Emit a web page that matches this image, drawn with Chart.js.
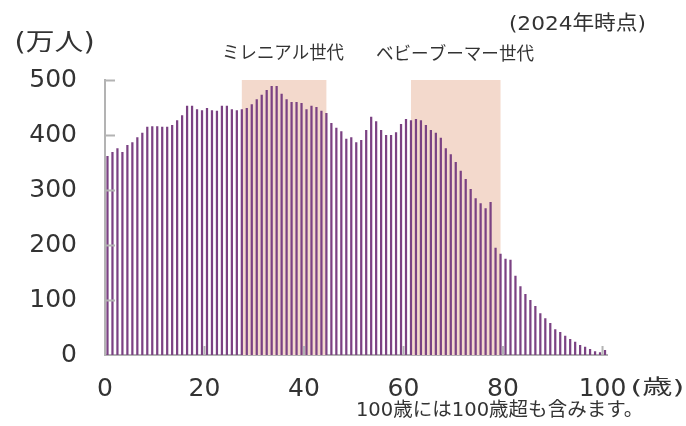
<!DOCTYPE html>
<html lang="ja">
<head>
<meta charset="utf-8">
<script src="https://cdn.jsdelivr.net/npm/chart.js@4/dist/chart.umd.min.js"></script>
<style>
  html, body { margin: 0; padding: 0; background: #ffffff; }
  #wrap { width: 686px; height: 426px; }
</style>
</head>
<body>
<div id="wrap"><canvas id="chart" width="686" height="426"></canvas></div>
<script>
// Ages 0–100 (100 includes everyone aged 100 and over)
const ageLabels = Array.from({ length: 101 }, (_, i) => String(i));

// Population by single year of age, in units of 10,000 people (2024)
const population = [
  362, 369, 376, 369, 382, 387, 396, 404, 415, 416,
  416, 415, 415, 418, 427, 436, 453, 453, 447, 445,
  449, 445, 444, 453, 453, 447, 445, 447, 449, 456,
  465, 473, 482, 489, 489, 475, 465, 460, 460, 458,
  447, 453, 451, 444, 440, 422, 413, 407, 393, 396,
  387, 391, 409, 433, 425, 409, 400, 400, 405, 420,
  429, 427, 429, 427, 418, 409, 404, 395, 376, 365,
  351, 335, 320, 302, 285, 276, 267, 278, 195, 184,
  175, 173, 144, 125, 111, 100, 89, 76, 67, 58,
  47, 42, 35, 29, 24, 18, 15, 11, 7, 5,
  9
];

// Age spans highlighted as generations
const generationNames = ['ミレニアル世代', 'ベビーブーマー世代'];
const generationSpans = [[27, 44], [61, 79]];

// Axis ticks
const yTicks = [0, 100, 200, 300, 400, 500];
const xLabelEvery = 20;

const PURPLE = '#7b4283';
const PEACH = '#f3d9cc';
const AXIS = '#b3b3b3';
const TEXT = '#333333';
const LATIN = '"DejaVu Sans", Verdana, sans-serif';
const MIXED = '"DejaVu Sans", "Noto Sans CJK JP", sans-serif';
const CJK = '"Noto Sans CJK JP", sans-serif';

Chart.defaults.font.family = LATIN;
Chart.defaults.color = TEXT;

// Draws a text so that its ink spans [x0, x1] horizontally, centred on cy.
function fitText(ctx, text, x0, x1, cy, size, family) {
  ctx.save();
  ctx.font = `${size}px ${family}`;
  ctx.textAlign = 'left';
  ctx.textBaseline = 'alphabetic';
  const m = ctx.measureText(text);
  const inkW = m.actualBoundingBoxLeft + m.actualBoundingBoxRight;
  const sx = (x1 - x0) / inkW;
  const base = cy + (m.actualBoundingBoxAscent - m.actualBoundingBoxDescent) / 2;
  ctx.translate(x0, base);
  ctx.scale(sx, 1);
  ctx.fillText(text, m.actualBoundingBoxLeft, 0);
  ctx.restore();
}

const decorations = {
  id: 'decorations',
  beforeDatasetsDraw(chart) {
    const { ctx, scales: { x, y } } = chart;
    ctx.save();
    ctx.fillStyle = PEACH;
    generationSpans.forEach(([a, b]) => {
      const x0 = x.getPixelForValue(a);
      const x1 = x.getPixelForValue(b);
      const yTop = y.getPixelForValue(yTicks[yTicks.length - 1]);
      const yBot = y.getPixelForValue(0);
      ctx.fillRect(x0, yTop, x1 - x0, yBot - yTop);
    });
    ctx.restore();
  },
  afterDraw(chart) {
    const { ctx, chartArea, scales: { x, y } } = chart;
    ctx.save();
    // inward tick marks
    ctx.strokeStyle = AXIS;
    ctx.lineWidth = 2;
    yTicks.forEach(v => {
      if (v === 0) return;
      const py = Math.round(y.getPixelForValue(v)) + 0.5;
      ctx.beginPath();
      ctx.moveTo(chartArea.left, py);
      ctx.lineTo(chartArea.left + 10, py);
      ctx.stroke();
    });
    for (let i = xLabelEvery; i < ageLabels.length; i += xLabelEvery) {
      const px = x.getPixelForValue(i - 0.5);
      ctx.beginPath();
      ctx.moveTo(px, chartArea.bottom);
      ctx.lineTo(px, chartArea.bottom - 9);
      ctx.stroke();
    }
    ctx.restore();

    // titles and notes
    ctx.fillStyle = TEXT;
    fitText(ctx, '(2024年時点)', 510, 645, 22, 20, MIXED);
    fitText(ctx, '(万人)', 17, 93, 42, 24, MIXED);
    fitText(ctx, generationNames[0], 224, 344, 52, 18, CJK);
    fitText(ctx, generationNames[1], 376, 534, 52, 18, CJK);
    fitText(ctx, '(歳)', 632, 683, 386, 20, MIXED);
    fitText(ctx, '100歳には100歳超も含みます。', 358, 631, 408, 19, MIXED);
  }
};

new Chart(document.getElementById('chart'), {
  type: 'bar',
  data: {
    labels: ageLabels,
    datasets: [{
      data: population,
      backgroundColor: PURPLE,
      borderWidth: 0,
      categoryPercentage: 1,
      barPercentage: 0.45
    }]
  },
  options: {
    responsive: false,
    animation: false,
    devicePixelRatio: 1,
    layout: { padding: { top: 80, right: 78.5, left: 0, bottom: 0 } },
    plugins: { legend: { display: false }, tooltip: { enabled: false } },
    scales: {
      x: {
        grid: { display: false, drawTicks: false },
        border: { display: true, color: AXIS, width: 2 },
        ticks: {
          autoSkip: false,
          maxRotation: 0,
          padding: 19,
          labelOffset: -2.5,
          font: { size: 25 },
          color: TEXT,
          callback: (v, i) => (i % xLabelEvery === 0 ? ageLabels[i] : '')
        },
        afterFit: s => { s.height = 71; }
      },
      y: {
        min: 0,
        max: 500,
        grid: { display: false, drawTicks: false },
        border: { display: true, color: AXIS, width: 2 },
        afterBuildTicks: s => { s.ticks = yTicks.map(v => ({ value: v })); },
        ticks: { padding: 28, font: { size: 25 }, color: TEXT },
        afterFit: s => { s.width = 105; }
      }
    }
  },
  plugins: [decorations]
});
</script>
</body>
</html>
